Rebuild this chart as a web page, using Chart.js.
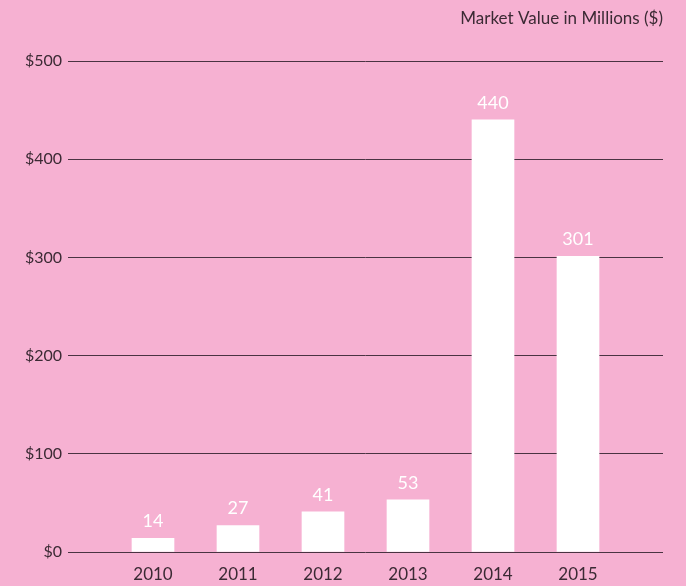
<!DOCTYPE html>
<html>
<head>
<meta charset="utf-8">
<script src="https://cdn.jsdelivr.net/npm/chart.js@4"></script>
<style>
  html, body { margin: 0; padding: 0; background: #f6b1d2; }
  canvas { display: block; }
</style>
</head>
<body>
<canvas id="miChart" width="686" height="586"></canvas>
<script>
// Datos del grafico
const years = ['', '2010', '2011', '2012', '2013', '2014', '2015', ''];
const marketValue = [null, 14, 27, 41, 53, 440, 301, null];
const yTicks = [0, 100, 200, 300, 400, 500];
const titleText = 'Market Value in Millions ($)';

const textColor = '#3b2a34';
const fontFamily = 'Lato, "Open Sans", sans-serif';

// Etiquetas blancas sobre cada barra y titulo arriba a la derecha
const labelsPlugin = {
    id: 'labelsPlugin',
    afterDatasetsDraw(chart) {
        const ctx = chart.ctx;
        const meta = chart.getDatasetMeta(0);
        ctx.save();
        ctx.fillStyle = '#ffffff';
        ctx.font = '18px ' + fontFamily;
        ctx.textAlign = 'center';
        ctx.textBaseline = 'alphabetic';
        meta.data.forEach((bar, i) => {
            const v = marketValue[i];
            if (v === null) return;
            ctx.fillText(String(v), bar.x, bar.y - 11);
        });
        ctx.fillStyle = textColor;
        ctx.font = '17px ' + fontFamily;
        ctx.textAlign = 'right';
        ctx.fillText(titleText, chart.chartArea.right, 24);
        ctx.restore();
    }
};

new Chart(document.querySelector('#miChart'), {
    type: 'bar',
    data: {
        labels: years,
        datasets: [{
            data: marketValue,
            backgroundColor: '#ffffff',
            borderWidth: 0,
            barThickness: 42
        }]
    },
    options: {
        responsive: false,
        animation: false,
        layout: { padding: { left: 0, right: 23, top: 61, bottom: 0 } },
        plugins: { legend: { display: false }, tooltip: { enabled: false } },
        scales: {
            x: {
                offset: false,
                grid: { display: false, drawTicks: false },
                border: { display: false },
                ticks: { color: textColor, font: { size: 17, family: fontFamily }, padding: 12, maxRotation: 0 },
                afterFit: (axis) => { axis.height = 34; }
            },
            y: {
                min: 0,
                max: 500,
                afterBuildTicks: (axis) => { axis.ticks = yTicks.map(v => ({ value: v })); },
                grid: { color: '#4a3342', lineWidth: 1, drawTicks: false },
                border: { display: false },
                ticks: {
                    color: textColor,
                    font: { size: 16, family: fontFamily },
                    padding: 6,
                    callback: (v) => '$' + v
                },
                afterFit: (axis) => { axis.width = 68; }
            }
        }
    },
    plugins: [labelsPlugin]
});
</script>
</body>
</html>
